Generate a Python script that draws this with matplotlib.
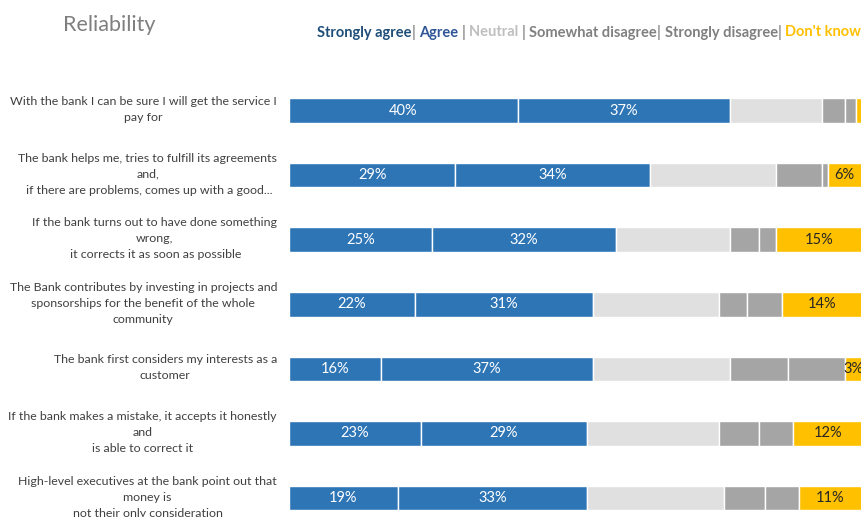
import matplotlib.pyplot as plt
import numpy as np
from matplotlib.offsetbox import HPacker, TextArea, AnchoredOffsetbox

plt.rcParams['font.family'] = ['Lato', 'DejaVu Sans']

statements = [
    "With the bank I can be sure I will get the service I\npay for",
    "The bank helps me, tries to fulfill its agreements\nand,\n if there are problems, comes up with a good...",
    "If the bank turns out to have done something\nwrong,\n it corrects it as soon as possible",
    "The Bank contributes by investing in projects and\nsponsorships for the benefit of the whole\ncommunity",
    "The bank first considers my interests as a\ncustomer",
    "If the bank makes a mistake, it accepts it honestly\nand\nis able to correct it",
    "High-level executives at the bank point out that\nmoney is\nnot their only consideration",
]

strongly_agree = [40, 29, 25, 22, 16, 23, 19]
agree = [37, 34, 32, 31, 37, 29, 33]
neutral = [16, 22, 20, 22, 24, 23, 24]
somewhat_disagree = [4, 8, 5, 5, 10, 7, 7]
strongly_disagree = [2, 1, 3, 6, 10, 6, 6]
dont_know = [1, 6, 15, 14, 3, 12, 11]

series = [
    ("Strongly agree", strongly_agree, "#2E75B6", "white"),
    ("Agree", agree, "#2E75B6", "white"),
    ("Neutral", neutral, "#E0E0E0", None),
    ("Somewhat disagree", somewhat_disagree, "#A5A5A5", None),
    ("Strongly disagree", strongly_disagree, "#A5A5A5", None),
    ("Don't know", dont_know, "#FFC000", "#262626"),
]

W, H = 862, 517
fig = plt.figure(figsize=(W / 100, H / 100), dpi=100)

# rows are 64.6 px apart, first bar centred at y=110
row_px = 64.6
top_px = 110.5 - row_px / 2
ax = fig.add_axes([289 / W, 0, 1 - 289 / W, 1 - top_px / H])
n = len(statements)
bottom_lim = -0.5 + (H - top_px) / row_px
ax.set_ylim(bottom_lim, -0.5)
ax.set_xlim(0, 100)

y = np.arange(n)
left = np.zeros(n)
for name, vals, color, txtcolor in series:
    vals = np.array(vals, dtype=float)
    ax.barh(y, vals, left=left, height=0.38, color=color,
            edgecolor="white", linewidth=1.0)
    if txtcolor:
        for yi, (l, v) in enumerate(zip(left, vals)):
            if v >= 3:
                ax.text(l + v / 2, yi, f"{v:.0f}%", ha="center", va="center",
                        color=txtcolor, fontsize=10.5, clip_on=False)
    left += vals

# statement labels, right-aligned block with centred lines
for yi, s in zip(y, statements):
    ax.annotate(s, xy=(0, yi), xycoords=("axes fraction", "data"),
                xytext=(-12, 1), textcoords="offset pixels",
                ha="right", va="center", multialignment="center",
                fontsize=8.9, color="#404040", linespacing=1.55,
                annotation_clip=False)
ax.set_yticks([])
ax.set_xticks([])
for s in ax.spines.values():
    s.set_visible(False)

fig.text(63 / W, 1 - 25 / H, "Reliability", fontsize=15.5, color="#7F7F7F",
         ha="left", va="center")

# coloured legend line
sep = "#8C8C8C"
legend_parts = [
    ("Strongly agree", "#1F4E79"), ("| ", sep),
    ("Agree ", "#2F5597"), ("| ", sep),
    ("Neutral ", "#BFBFBF"), ("| ", sep),
    ("Somewhat disagree", "#808080"), ("| ", sep),
    ("Strongly disagree", "#7F7F7F"), ("| ", sep),
    ("Don't know", "#FFC000"),
]
boxes = [TextArea(txt, textprops=dict(color=c, fontsize=10.5, fontweight="bold"))
         for txt, c in legend_parts]
pack = HPacker(children=boxes, align="baseline", pad=0, sep=0)
anch = AnchoredOffsetbox(loc="center right", child=pack, pad=0, frameon=False,
                         bbox_to_anchor=(861 / W, 1 - 32 / H),
                         bbox_transform=fig.transFigure, borderpad=0)
fig.add_artist(anch)

fig.savefig("out.png", dpi=100)
